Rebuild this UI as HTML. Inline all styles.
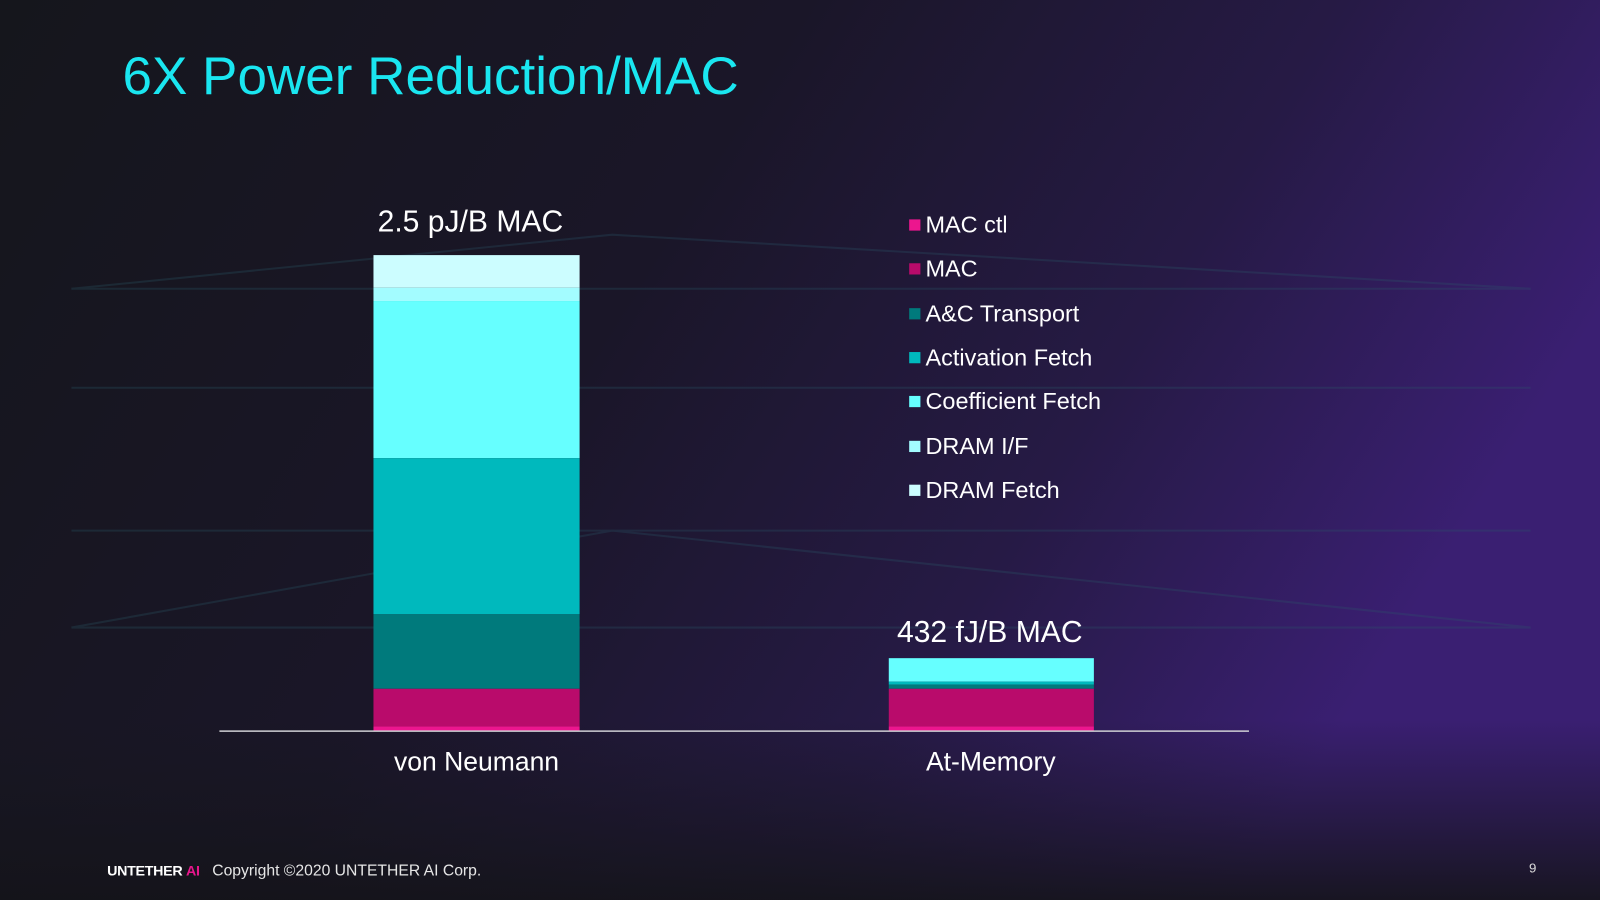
<!DOCTYPE html>
<html><head><meta charset="utf-8"><style>
html,body{margin:0;padding:0;width:1600px;height:900px;overflow:hidden;background:#16161e}
svg{display:block}
text{font-family:"Liberation Sans",Arial,sans-serif}
</style></head><body>
<svg width="1600" height="900" viewBox="0 0 1568 882" preserveAspectRatio="none" xmlns="http://www.w3.org/2000/svg">
<defs>
<linearGradient id="bg" x1="0" y1="0" x2="1" y2="0.35">
<stop offset="0" stop-color="#15161c"/>
<stop offset="0.45" stop-color="#1a1628"/>
<stop offset="0.75" stop-color="#261a45"/>
<stop offset="1" stop-color="#3a1f72"/>
</linearGradient>
<linearGradient id="fade" x1="0" y1="0" x2="0" y2="1">
<stop offset="0" stop-color="#15151c" stop-opacity="0"/>
<stop offset="0.8" stop-color="#15151c" stop-opacity="0"/>
<stop offset="1" stop-color="#141419" stop-opacity="0.9"/>
</linearGradient>
</defs>
<rect width="1568" height="882" fill="url(#bg)"/>
<g stroke="#2a5a6a" stroke-width="2" opacity="0.28" fill="none">
<path d="M70 283 L1500 283 M70 380 L1500 380 M70 520 L1500 520 M70 615 L1500 615"/>
<path d="M70 283 L600 230 L1500 283 M70 615 L600 520 L1500 615"/>
</g>
<rect width="1568" height="882" fill="url(#fade)"/>
<text x="120" y="92" font-size="52" fill="#1ae6f0">6X Power Reduction/MAC</text>
<rect x="366" y="250" width="202" height="32" fill="#ccfdff"/>
<rect x="366" y="282" width="202" height="13" fill="#a3fcff"/>
<rect x="366" y="295" width="202" height="154" fill="#66ffff"/>
<rect x="366" y="449" width="202" height="153" fill="#00b9bd"/>
<rect x="366" y="602" width="202" height="73" fill="#007a7c"/>
<rect x="366" y="675" width="202" height="37" fill="#b90b6b"/>
<rect x="366" y="712" width="202" height="4" fill="#ec168e"/>
<rect x="871" y="645" width="201" height="23" fill="#66ffff"/>
<rect x="871" y="668" width="201" height="3" fill="#00b9bd"/>
<rect x="871" y="671" width="201" height="4" fill="#007a7c"/>
<rect x="871" y="675" width="201" height="37" fill="#b90b6b"/>
<rect x="871" y="712" width="201" height="4" fill="#ec168e"/>
<line x1="215" y1="716.5" x2="1224" y2="716.5" stroke="#cfcfd4" stroke-width="1.5"/>
<g fill="#ffffff" text-anchor="middle">
<text x="461" y="227" font-size="29.5">2.5 pJ/B MAC</text>
<text x="970" y="629" font-size="29.5">432 fJ/B MAC</text>
<text x="467" y="755" font-size="26">von Neumann</text>
<text x="971" y="755" font-size="26">At-Memory</text>
</g>
<g font-size="23" fill="#ffffff">
<rect x="891" y="215" width="11" height="11" fill="#ec168e"/><text x="907" y="228">MAC ctl</text>
<rect x="891" y="258" width="11" height="11" fill="#b90b6b"/><text x="907" y="271">MAC</text>
<rect x="891" y="302" width="11" height="11" fill="#007a7c"/><text x="907" y="315">A&amp;C Transport</text>
<rect x="891" y="345" width="11" height="11" fill="#00b9bd"/><text x="907" y="358">Activation Fetch</text>
<rect x="891" y="388" width="11" height="11" fill="#66ffff"/><text x="907" y="401">Coefficient Fetch</text>
<rect x="891" y="432" width="11" height="11" fill="#a3fcff"/><text x="907" y="445">DRAM I/F</text>
<rect x="891" y="475" width="11" height="11" fill="#ccfdff"/><text x="907" y="488">DRAM Fetch</text>
</g>
<text x="105" y="858" font-size="14" font-weight="bold" fill="#ffffff" letter-spacing="-0.3">UNTETHER <tspan fill="#e8168c">AI</tspan></text>
<text x="208" y="858" font-size="15.4" fill="#e6e6e6">Copyright ©2020 UNTETHER AI Corp.</text>
<text x="1502" y="855" font-size="13" fill="#dddddd" text-anchor="middle">9</text>
</svg>
</body></html>
